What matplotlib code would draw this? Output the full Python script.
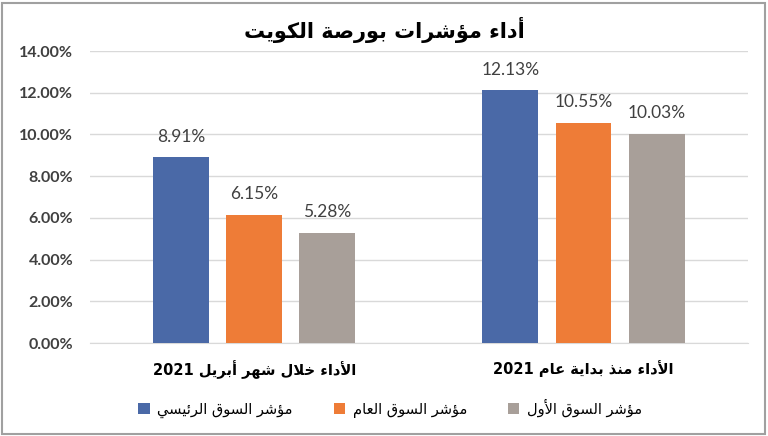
import matplotlib.pyplot as plt
import numpy as np
from matplotlib.patches import Rectangle

# البيانات
groups = ["الأداء خلال شهر أبريل 2021", "الأداء منذ بداية عام 2021"]
series_names = ["مؤشر السوق الرئيسي", "مؤشر السوق العام", "مؤشر السوق الأول"]
main_idx = [8.91, 12.13]
all_idx = [6.15, 10.55]
premier_idx = [5.28, 10.03]
title = "أداء مؤشرات بورصة الكويت"
yticks = [0, 2, 4, 6, 8, 10, 12, 14]

colors = ["#4A69A7", "#EE7C37", "#A89F99"]

# تشكيل بسيط للحروف العربية (matplotlib لا يقوم بالربط ولا باتجاه اليمين لليسار)
ISO = {'ء': 0xFE80, 'آ': 0xFE81, 'أ': 0xFE83, 'ؤ': 0xFE85, 'إ': 0xFE87, 'ئ': 0xFE89,
       'ا': 0xFE8D, 'ب': 0xFE8F, 'ة': 0xFE93, 'ت': 0xFE95, 'ث': 0xFE99, 'ج': 0xFE9D,
       'ح': 0xFEA1, 'خ': 0xFEA5, 'د': 0xFEA9, 'ذ': 0xFEAB, 'ر': 0xFEAD, 'ز': 0xFEAF,
       'س': 0xFEB1, 'ش': 0xFEB5, 'ص': 0xFEB9, 'ض': 0xFEBD, 'ط': 0xFEC1, 'ظ': 0xFEC5,
       'ع': 0xFEC9, 'غ': 0xFECD, 'ف': 0xFED1, 'ق': 0xFED5, 'ك': 0xFED9, 'ل': 0xFEDD,
       'م': 0xFEE1, 'ن': 0xFEE5, 'ه': 0xFEE9, 'و': 0xFEED, 'ى': 0xFEEF, 'ي': 0xFEF1}
RIGHT = set('آأؤإاةدذرزوى')
LAM_ALEF = {'آ': 0xFEF5, 'أ': 0xFEF7, 'إ': 0xFEF9, 'ا': 0xFEFB}


def jtype(c):
    if isinstance(c, tuple) or c in RIGHT:
        return 'R'
    if c == 'ء' or c not in ISO:
        return 'U'
    return 'D'


def shape_word(w):
    chars = []
    i = 0
    while i < len(w):
        if w[i] == 'ل' and i + 1 < len(w) and w[i + 1] in LAM_ALEF:
            chars.append(('LA', w[i + 1]))
            i += 2
        else:
            chars.append(w[i])
            i += 1
    out = []
    for k, c in enumerate(chars):
        t = jtype(c)
        prev = jtype(chars[k - 1]) if k > 0 else 'U'
        nxt = jtype(chars[k + 1]) if k + 1 < len(chars) else 'U'
        jp = t != 'U' and prev == 'D'
        jn = t == 'D' and nxt in ('D', 'R')
        if isinstance(c, tuple):
            out.append(chr(LAM_ALEF[c[1]] + (1 if jp else 0)))
        elif c not in ISO:
            out.append(c)
        else:
            off = 3 if (jp and jn) else 1 if jp else 2 if jn else 0
            out.append(chr(ISO[c] + off))
    return ''.join(reversed(out))


def rtl(text):
    words = text.split(' ')
    vis = [w if w.isdigit() else shape_word(w) for w in words]
    return ' '.join(reversed(vis))


fig = plt.figure(figsize=(7.68, 4.36), dpi=100)
ax = fig.add_axes([0.117, 0.213, 0.857, 0.670])

x = np.arange(len(groups))
w = 0.17
step = 0.222
values = [main_idx, all_idx, premier_idx]
for i, (vals, name) in enumerate(zip(values, series_names)):
    bars = ax.bar(x + (i - 1) * step, vals, w, color=colors[i], label=rtl(name), zorder=3)
    for b, v in zip(bars, vals):
        ax.annotate(f"{v:.2f}%", (b.get_x() + b.get_width() / 2, v),
                    xytext=(0, 9), textcoords="offset points", ha="center", va="bottom",
                    fontsize=12.5, color="#404040", family="Lato")

ax.set_xlim(-0.5, 1.5)
ax.set_ylim(0, 14)
ax.set_yticks(yticks)
ax.set_yticklabels([f"{t:.2f}%" for t in yticks], family="Lato", fontweight="bold",
                   fontsize=11.5, color="#404040")
ax.set_xticks(x)
ax.set_xticklabels([rtl(g) for g in groups], family="DejaVu Sans", fontweight="bold",
                   fontsize=10.5, color="black")
ax.tick_params(axis="both", length=0)
ax.tick_params(axis="y", pad=12)
ax.tick_params(axis="x", pad=12)
ax.grid(axis="y", color="#D9D9D9", linewidth=1, zorder=0)
for s in ["top", "right", "left"]:
    ax.spines[s].set_visible(False)
ax.spines["bottom"].set_color("#D9D9D9")

fig.text(0.5, 0.931, rtl(title), ha="center", va="center", fontsize=15,
         fontweight="bold", family="DejaVu Sans")

fig.legend(loc="center", bbox_to_anchor=(0.508, 0.064), ncol=3, frameon=False,
           prop={"family": "DejaVu Sans", "size": 10.5}, handlelength=0.8, handleheight=0.8,
           columnspacing=2.8, handletextpad=0.5)

fig.patches.append(Rectangle((0.003, 0.004), 0.993, 0.99, transform=fig.transFigure,
                             fill=False, edgecolor="#A0A0A0", linewidth=1.5))

fig.savefig("out.png", dpi=100)
